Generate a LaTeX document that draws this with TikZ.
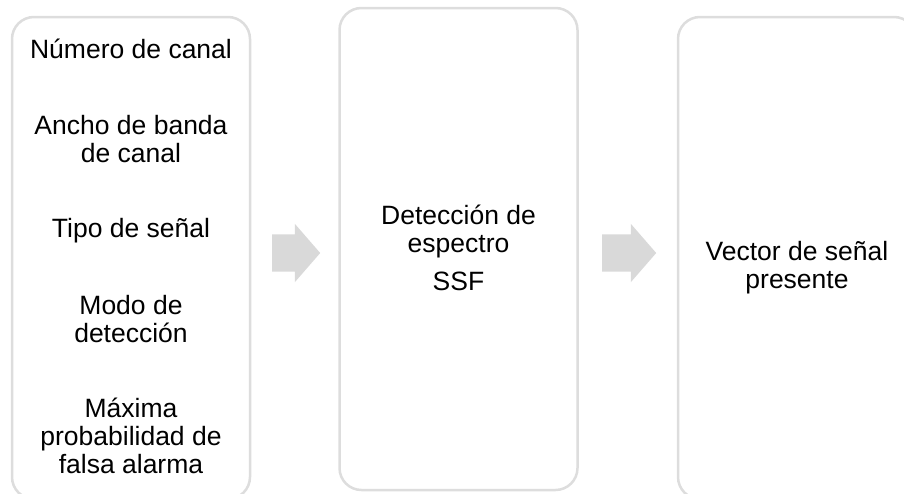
\documentclass[tikz,border=0pt]{standalone}
\usepackage{fontspec}
\setmainfont{Liberation Sans}
\usetikzlibrary{shapes.arrows,positioning}

\definecolor{framegray}{HTML}{DDDDDD}
\definecolor{arrowgray}{HTML}{D9D9D9}

\begin{document}
\begin{tikzpicture}[
	x = 1pt, y = -1pt, % picture in pixel units, y downwards
	B/.style={draw=framegray, line width=2.5pt, rounded corners=22pt, fill=white, minimum width=238pt, inner sep=0pt},  % frame
	T/.style={align=center, anchor=base, font=\fontsize{26.5}{28}\selectfont, inner sep=0pt},                              % text, base = last line
	A/.style={single arrow, fill=arrowgray, draw=none, inner xsep=0pt, inner ysep=18.5pt, single arrow head extend=10.5pt, single arrow tip angle=98, anchor=west},  % block arrow
	]
	\useasboundingbox (0,0) rectangle (904,493);
	\clip (0,0) rectangle (904,493);

	% Frames
	\node[B, minimum height=482pt] (F1) at (131,258) {};
	\node[B, minimum height=482pt] (F2) at (458.5,249) {};
	\node[B, minimum height=482pt] (F3) at (797,258) {};

	% Block arrows between the frames
	\node[A, minimum height=48pt] (A1) at (272,253) {};
	\node[A, minimum height=54pt] (A2) at (602,253) {};

	% Input items
	\node[T] (num) at (131,58) {Número de canal};
	\node[T] (anc) at (131,162) {Ancho de banda\\de canal};
	\node[T] (tip) at (131,237.5) {Tipo de señal};
	\node[T] (mod) at (131,342.5) {Modo de\\detección};
	\node[T] (max) at (131,473) {Máxima\\probabilidad de\\falsa alarma};

	% Detection
	\node[T] (det) at (458.5,290) {Detección de\\espectro\\[10pt]SSF};

	% Output
	\node[T] (vec) at (797,288) {Vector de señal\\presente};

\end{tikzpicture}
\end{document}
